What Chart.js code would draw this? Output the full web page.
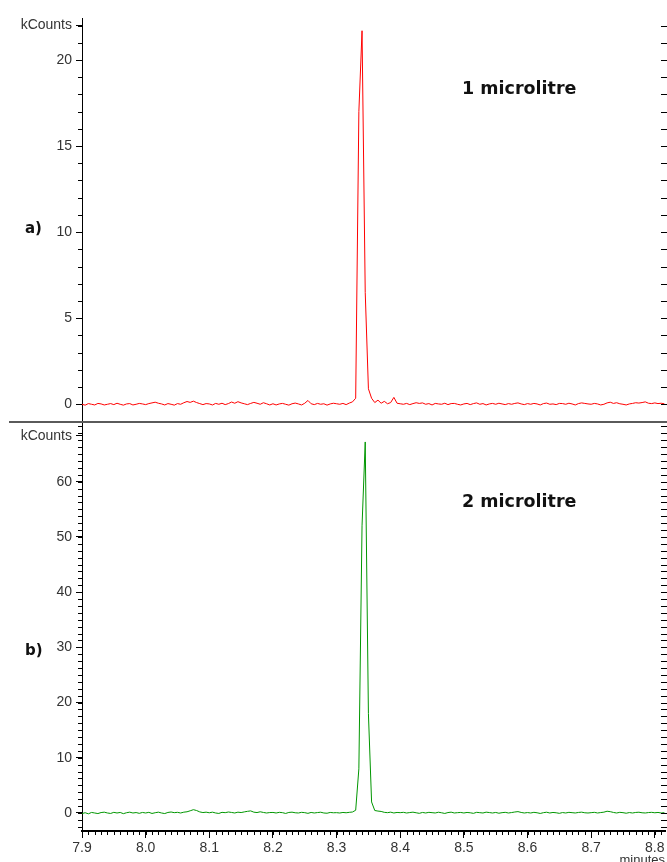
<!DOCTYPE html>
<html>
<head>
<meta charset="utf-8">
<script src="https://cdn.jsdelivr.net/npm/chart.js@4.4.1/dist/chart.umd.min.js"></script>
<style>
  html, body { margin: 0; padding: 0; background: #fff; }
  #wrap { position: relative; width: 667px; height: 862px; overflow: hidden; background: #fff; }
  canvas { position: absolute; left: 0; }
  #chartA { top: 0; }
  #chartB { top: 422px; }
  #divider { position: absolute; left: 9px; top: 421px; width: 658px; height: 2px; background: #5a5a5a; }
</style>
</head>
<body>
<div id="wrap">
  <canvas id="chartA" width="667" height="422"></canvas>
  <canvas id="chartB" width="667" height="440"></canvas>
  <div id="divider"></div>
</div>
<script>
// Retention time of each detector sample (minutes)
const times = [
  7.900,7.905,7.910,7.915,7.920,7.925,7.930,7.935,7.940,7.945,7.950,7.955,7.960,7.965,7.970,7.975,7.980,7.985,7.990,7.995,
  8.000,8.005,8.010,8.015,8.020,8.025,8.030,8.035,8.040,8.045,8.050,8.055,8.060,8.065,8.070,8.075,8.080,8.085,8.090,8.095,
  8.100,8.105,8.110,8.115,8.120,8.125,8.130,8.135,8.140,8.145,8.150,8.155,8.160,8.165,8.170,8.175,8.180,8.185,8.190,8.195,
  8.200,8.205,8.210,8.215,8.220,8.225,8.230,8.235,8.240,8.245,8.250,8.255,8.260,8.265,8.270,8.275,8.280,8.285,8.290,8.295,
  8.300,8.305,8.310,8.315,8.320,8.325,8.330,8.335,8.340,8.345,8.350,8.355,8.360,8.365,8.370,8.375,8.380,8.385,8.390,8.395,
  8.400,8.405,8.410,8.415,8.420,8.425,8.430,8.435,8.440,8.445,8.450,8.455,8.460,8.465,8.470,8.475,8.480,8.485,8.490,8.495,
  8.500,8.505,8.510,8.515,8.520,8.525,8.530,8.535,8.540,8.545,8.550,8.555,8.560,8.565,8.570,8.575,8.580,8.585,8.590,8.595,
  8.600,8.605,8.610,8.615,8.620,8.625,8.630,8.635,8.640,8.645,8.650,8.655,8.660,8.665,8.670,8.675,8.680,8.685,8.690,8.695,
  8.700,8.705,8.710,8.715,8.720,8.725,8.730,8.735,8.740,8.745,8.750,8.755,8.760,8.765,8.770,8.775,8.780,8.785,8.790,8.795,
  8.800,8.805,8.810,8.815
];

// Detector response, kCounts – 1 microlitre injection
const countsA = [
  0.00,-0.05,0.04,0.00,-0.04,0.05,0.02,-0.04,0.00,0.04,-0.02,0.06,0.00,-0.05,0.02,0.04,-0.04,0.00,0.05,0.02,
  -0.02,0.04,0.08,0.12,0.06,0.02,-0.04,0.04,0.00,-0.05,0.04,0.00,0.09,0.16,0.11,0.18,0.10,0.04,-0.02,0.04,
  0.02,-0.04,0.05,0.00,0.06,-0.02,0.04,0.13,0.06,0.15,0.08,0.03,-0.02,0.05,0.11,0.06,0.00,0.09,0.03,-0.04,
  0.03,-0.04,0.02,0.05,0.00,-0.05,0.03,0.07,0.02,-0.04,0.06,0.22,0.03,-0.02,0.05,0.00,0.03,-0.05,0.02,0.06,
  0.03,0.00,0.05,-0.02,0.07,0.14,0.35,17.0,21.7,6.5,0.9,0.35,0.10,0.24,0.06,0.17,0.03,0.10,0.40,0.06,
  0.03,0.00,0.05,-0.02,0.04,0.09,0.05,0.08,0.00,0.04,-0.04,0.05,0.02,0.00,0.06,-0.02,0.04,0.05,0.00,-0.04,
  0.02,0.05,-0.02,0.04,0.08,0.00,0.04,-0.04,0.02,0.05,0.00,0.06,0.02,-0.02,0.04,0.00,0.05,0.08,0.02,-0.02,
  0.04,0.00,0.05,0.02,-0.04,0.04,0.07,0.00,0.02,-0.02,0.05,0.04,0.00,0.06,0.02,-0.04,0.04,0.08,0.05,0.02,
  0.00,0.05,0.02,-0.04,0.00,0.08,0.12,0.05,0.09,0.03,0.00,-0.04,0.02,0.05,0.09,0.07,0.10,0.14,0.06,0.04,
  0.08,0.04,0.06,0.03
];

// Detector response, kCounts – 2 microlitre injection
const countsB = [
  -0.10,0.05,-0.15,0.10,0.00,-0.10,0.08,0.15,0.00,-0.08,0.12,0.00,0.10,-0.12,0.05,0.15,0.00,0.08,-0.06,0.10,
  0.00,0.12,-0.08,0.05,0.15,0.00,-0.10,0.10,0.18,0.06,0.12,0.00,0.15,0.22,0.40,0.60,0.45,0.20,0.08,0.15,
  0.04,0.15,0.00,-0.08,0.12,0.06,0.18,0.10,0.00,0.15,0.08,0.20,0.30,0.38,0.15,0.08,0.22,0.10,0.00,0.08,
  0.10,0.00,0.12,0.06,-0.08,0.10,0.15,0.04,0.00,0.12,0.06,-0.06,0.10,0.00,0.08,0.14,0.00,-0.04,0.10,0.04,
  0.06,0.00,0.10,0.04,0.12,0.18,0.50,8.0,52.0,67.2,18.0,2.0,0.45,0.35,0.28,0.12,0.06,0.15,0.00,0.10,
  0.06,0.12,0.00,0.08,0.15,0.04,-0.06,0.10,0.00,0.12,0.06,0.00,0.14,0.04,-0.08,0.08,0.15,0.00,0.06,0.10,
  0.00,0.10,0.04,-0.06,0.12,0.06,0.00,0.15,0.08,0.00,0.10,-0.04,0.06,0.12,0.00,0.08,0.18,0.25,0.10,0.00,
  0.08,0.00,0.12,0.04,-0.08,0.06,0.14,0.00,0.10,0.04,-0.06,0.08,0.00,0.12,0.06,0.00,0.10,0.15,0.04,0.00,
  0.06,0.12,0.00,0.08,0.15,0.32,0.24,0.10,0.00,0.12,0.06,-0.04,0.08,0.00,0.10,0.14,0.04,0.00,0.08,0.12,
  0.04,0.10,0.00,0.06
];

// Axis ranges and labelled ticks
const xRange = [7.9, 8.816];
const xTickValues = [7.9, 8.0, 8.1, 8.2, 8.3, 8.4, 8.5, 8.6, 8.7, 8.8];
const yRangeA = [-1.03, 22.44];
const yTickValuesA = [0, 5, 10, 15, 20, 22];
const yTickLabelsA = ['0', '5', '10', '15', '20', 'kCounts'];
const yRangeB = [-3.26, 70.63];
const yTickValuesB = [0, 10, 20, 30, 40, 50, 60, 68.3];
const yTickLabelsB = ['0', '10', '20', '30', '40', '50', '60', 'kCounts'];
const panelLetters = ['a)', 'b)'];
const sampleLabels = ['1 microlitre', '2 microlitre'];

Chart.defaults.font.family = '"Liberation Sans", Arial, sans-serif';

// Minor tick marks on the left, right and bottom edges of the plot
const axisDetail = {
  id: 'axisDetail',
  afterDraw(chart, args, opts) {
    const { ctx, chartArea: a, scales: { x, y } } = chart;
    ctx.save();
    ctx.strokeStyle = '#000';
    ctx.lineWidth = 1;
    ctx.beginPath();
    const i0 = Math.ceil(y.min / opts.yStep), i1 = Math.floor(y.max / opts.yStep);
    for (let i = i0; i <= i1; i++) {
      const py = Math.round(y.getPixelForValue(i * opts.yStep)) + 0.5;
      ctx.moveTo(a.left - 4, py); ctx.lineTo(a.left, py);
      ctx.moveTo(a.right - 4, py); ctx.lineTo(a.right + 2, py);
    }
    if (opts.xStep) {
      const j0 = Math.ceil(x.min / opts.xStep - 1e-6), j1 = Math.floor(x.max / opts.xStep + 1e-6);
      for (let j = j0; j <= j1; j++) {
        const px = Math.round(x.getPixelForValue(j * opts.xStep)) + 0.5;
        ctx.moveTo(px, a.bottom); ctx.lineTo(px, a.bottom + 4);
      }
    }
    ctx.stroke();
    ctx.restore();
  }
};

// Panel letter and sample caption
const panelText = {
  id: 'panelText',
  afterDraw(chart, args, opts) {
    const ctx = chart.ctx;
    ctx.save();
    ctx.fillStyle = '#111';
    ctx.textBaseline = 'middle';
    ctx.textAlign = 'left';
    for (const t of opts.items) {
      ctx.font = 'bold ' + t.size + 'px "DejaVu Sans", sans-serif';
      ctx.fillText(t.text, t.x, t.y);
    }
    ctx.restore();
  }
};

function buildChart(id, counts, color, yRange, yVals, yLabels, yMinorStep, showXAxis, notes) {
  const padding = showXAxis
    ? { left: 0, right: 2, top: 1, bottom: 0 }
    : { left: 0, right: 2, top: 18, bottom: 0 };
  return new Chart(document.getElementById(id), {
    type: 'line',
    data: {
      datasets: [{
        data: times.map((t, i) => ({ x: t, y: counts[i] })),
        borderColor: color,
        borderWidth: 1,
        pointRadius: 0,
        tension: 0,
        fill: false
      }]
    },
    options: {
      responsive: false,
      animation: false,
      devicePixelRatio: 1,
      events: [],
      layout: { padding },
      plugins: {
        legend: { display: false },
        tooltip: { enabled: false },
        axisDetail: { yStep: yMinorStep, xStep: showXAxis ? 0.01 : 0 },
        panelText: { items: notes }
      },
      scales: {
        x: {
          type: 'linear',
          min: xRange[0],
          max: xRange[1],
          display: showXAxis,
          afterBuildTicks: s => { s.ticks = xTickValues.map(v => ({ value: v })); },
          afterFit: s => {
            if (!showXAxis) { s.height = 0; return; }
            s.height = 31; s.paddingLeft = 0; s.paddingRight = 0;
          },
          ticks: { callback: v => v.toFixed(1), font: { size: 14 }, color: '#333', padding: 2, maxRotation: 0, autoSkip: false },
          grid: { drawOnChartArea: false, drawTicks: true, tickLength: 7, tickColor: '#000' },
          border: { display: true, color: '#000', width: 2 },
          title: { display: true, text: 'minutes', align: 'end', font: { size: 13 }, color: '#333', padding: { top: 0, bottom: -6 } }
        },
        y: {
          type: 'linear',
          min: yRange[0],
          max: yRange[1],
          afterBuildTicks: s => { s.ticks = yVals.map(v => ({ value: v })); },
          afterFit: s => { s.width = 82; s.paddingTop = 0; s.paddingBottom = 0; },
          ticks: { callback: v => yLabels[yVals.indexOf(v)], font: { size: 14 }, color: '#333', padding: 4, autoSkip: false },
          grid: { drawOnChartArea: false, drawTicks: true, tickLength: 6, tickColor: '#000' },
          border: { display: true, color: '#000', width: 1 }
        }
      }
    },
    plugins: [axisDetail, panelText]
  });
}

buildChart('chartA', countsA, 'rgb(255,0,0)', yRangeA, yTickValuesA, yTickLabelsA, 1, false, [
  { text: panelLetters[0], x: 25, y: 229, size: 15 },
  { text: sampleLabels[0], x: 462, y: 89, size: 17.5 }
]);
buildChart('chartB', countsB, 'rgb(0,150,0)', yRangeB, yTickValuesB, yTickLabelsB, 1.25, true, [
  { text: panelLetters[1], x: 25, y: 229, size: 15 },
  { text: sampleLabels[1], x: 462, y: 80, size: 17.5 }
]);
</script>
</body>
</html>
